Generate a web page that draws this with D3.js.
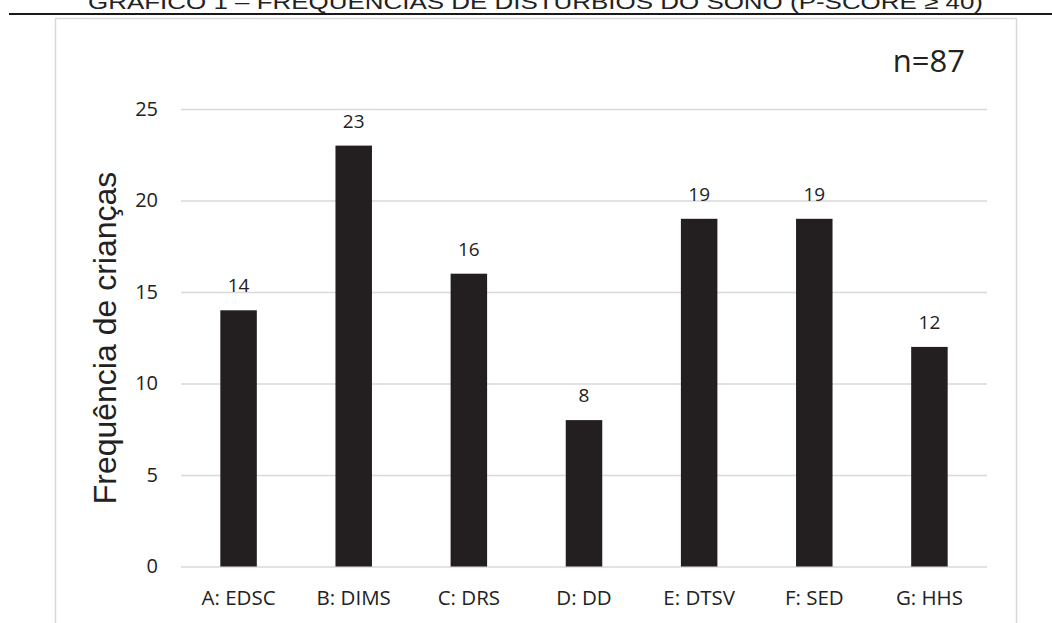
<!DOCTYPE html>
<html>
<head>
<meta charset="utf-8">
<script src="https://cdn.jsdelivr.net/npm/d3@7"></script>
<style>
  html, body { margin: 0; padding: 0; background: #fff; }
  svg { display: block; }
</style>
</head>
<body>
<svg id="chart" width="1052" height="623"></svg>
<script>
// Sleep-disorder categories and the number of children in each
const categories = ["A: EDSC", "B: DIMS", "C: DRS", "D: DD", "E: DTSV", "F: SED", "G: HHS"];
const counts = [14, 23, 16, 8, 19, 19, 12];
const yTicks = [0, 5, 10, 15, 20, 25];
const titleText = "GRÁFICO 1 – FREQUÊNCIAS DE DISTÚRBIOS DO SONO (P-SCORE ≥ 40)";
const yAxisTitle = "Frequência de crianças";
const sampleNote = "n=87";

const svg = d3.select("#chart");
const labelFont = "'Open Sans', sans-serif";

// Caption above the rule
svg.append("text")
  .attr("x", 88).attr("y", 9)
  .attr("textLength", 895).attr("lengthAdjust", "spacingAndGlyphs")
  .style("font-family", "'Liberation Sans', Arial, sans-serif")
  .style("font-size", "20px")
  .attr("fill", "#222")
  .text(titleText);

svg.append("line")
  .attr("x1", 9).attr("x2", 1052).attr("y1", 14).attr("y2", 14)
  .attr("stroke", "#1a1a1a").attr("stroke-width", 2);

// Chart frame
svg.append("rect")
  .attr("x", 55.5).attr("y", 18.5).attr("width", 961).attr("height", 640)
  .attr("fill", "#fff").attr("stroke", "#d9d9d9").attr("stroke-width", 1.5);

// Scales
const x = d3.scaleBand()
  .domain(categories)
  .range([181, 987])
  .paddingInner(0.683)
  .paddingOuter(0.683 / 2);

const y = d3.scaleLinear().domain([0, 25]).range([566.5, 109]);

// Horizontal gridlines with tick labels
const yAxis = d3.axisLeft(y).tickValues(yTicks).tickSize(-(987 - 181)).tickPadding(23);
const gy = svg.append("g").attr("transform", "translate(181,0)").call(yAxis);
gy.select(".domain").remove();
gy.selectAll(".tick line").attr("stroke", "#d9d9d9").attr("stroke-width", 1.5);
gy.selectAll(".tick text")
  .attr("fill", "#222")
  .style("font-family", labelFont)
  .style("font-size", "20px");

// Category axis
const xAxis = d3.axisBottom(x).tickSize(0).tickPadding(0);
const gx = svg.append("g").attr("transform", "translate(0,566.5)").call(xAxis);
gx.select(".domain").remove();
gx.selectAll(".tick text")
  .attr("fill", "#222")
  .attr("dy", null)
  .attr("y", 38.5)
  .style("font-family", labelFont)
  .style("font-size", "20.5px");

// Bars
svg.append("g").selectAll("rect")
  .data(counts)
  .join("rect")
  .attr("x", (d, i) => x(categories[i]))
  .attr("width", x.bandwidth())
  .attr("y", d => y(d))
  .attr("height", d => y(0) - y(d))
  .attr("fill", "#231f20");

// Value labels
svg.append("g").selectAll("text")
  .data(counts)
  .join("text")
  .attr("x", (d, i) => x(categories[i]) + x.bandwidth() / 2)
  .attr("y", d => y(d) - 18)
  .attr("text-anchor", "middle")
  .attr("fill", "#222")
  .style("font-family", labelFont)
  .style("font-size", "19px")
  .text(d => d);

// Y-axis title
svg.append("text")
  .attr("transform", "translate(116,338) rotate(-90)")
  .attr("text-anchor", "middle")
  .attr("fill", "#222")
  .style("font-family", "'Liberation Sans', Arial, sans-serif")
  .style("font-size", "32px")
  .text(yAxisTitle);

// Sample size note
svg.append("text")
  .attr("x", 965).attr("y", 72)
  .attr("text-anchor", "end")
  .attr("fill", "#222")
  .style("font-family", labelFont)
  .style("font-size", "31px")
  .text(sampleNote);
</script>
</body>
</html>
